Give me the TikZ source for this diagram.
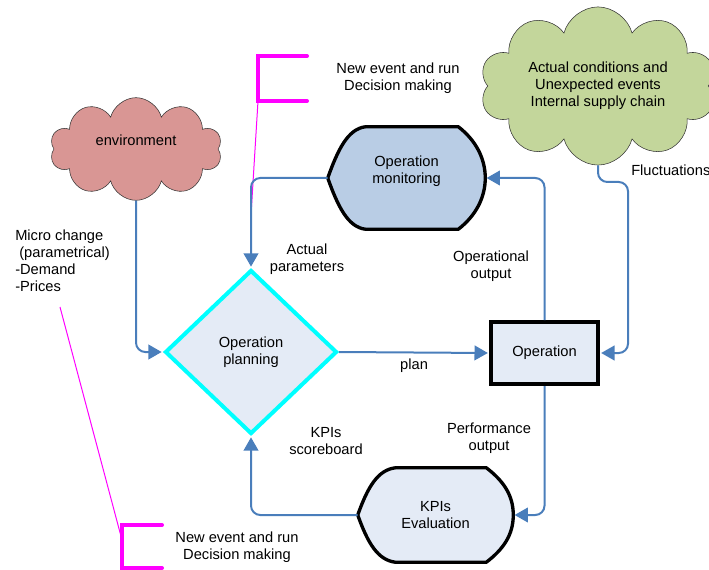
\documentclass[tikz,border=0pt]{standalone}
\usepackage{fontspec}
\setmainfont{Liberation Sans}
\usepackage{tikz}
\usetikzlibrary{arrows.meta,shapes.geometric,shapes.symbols,backgrounds,calc}

\definecolor{flowblue}{RGB}{74,126,187}
\definecolor{planfill}{RGB}{228,235,246}
\definecolor{monfill}{RGB}{185,205,229}
\definecolor{envfill}{RGB}{217,150,148}
\definecolor{actfill}{RGB}{195,214,155}
\definecolor{brkpink}{RGB}{255,0,255}
\definecolor{plancyan}{RGB}{0,255,255}

\tikzset{
  every node/.style={font=\fontsize{11}{12.75}\selectfont},
  flow/.style={draw=flowblue, line width=1.5pt, rounded corners=7pt, shorten >=1pt,
    -{Triangle[length=10pt,width=11pt]}},
  brk/.style={draw=brkpink, line width=3pt, line cap=round},
  leader/.style={draw=brkpink, line width=0.75pt}
}

% outline of a display shape round node #1, filled with #2
\newcommand{\dispoutline}[2]{%
  \draw[line width=2.5pt, line join=round, fill=#2] (#1.west)
    .. controls ($(#1.west)+(10,-28)$) and ($(#1.north west)+(20,2)$) .. ($(#1.north west)+(38,0)$)
    -- ($(#1.north east)+(-27,0)$)
    .. controls ($(#1.north east)+(-10,13)$) and ($(#1.east)+(0,-20)$) .. (#1.east)
    .. controls ($(#1.east)+(0,20)$) and ($(#1.south east)+(-10,-13)$) .. ($(#1.south east)+(-27,0)$)
    -- ($(#1.south west)+(38,0)$)
    .. controls ($(#1.south west)+(20,-2)$) and ($(#1.west)+(10,28)$) .. (#1.west) -- cycle;}

\begin{document}
\begin{tikzpicture}[x=0.75pt,y=0.75pt,yscale=-1,xscale=1]
\useasboundingbox (0,0) rectangle (709,570);

%Shape: Cloud [environment]
\node (envcloud) at (136,149) [cloud, cloud puffs=10, cloud ignores aspect, draw=black!80, fill=envfill,
  minimum width=129pt, minimum height=77pt, text depth=13.5pt] {environment};
%Shape: Cloud [actual conditions]
\node (actcloud) at (598,86) [cloud, cloud puffs=10, aspect=1.84, draw=black!80, fill=actfill,
  minimum width=177pt, minimum height=95pt, align=center]
  {Actual conditions and\\Unexpected events\\Internal supply chain};

%Shape: Diamond
\node (plan) at (251,352) [diamond, draw=plancyan, line width=3pt, fill=planfill,
  minimum width=129pt, minimum height=123pt, inner sep=0pt, align=center] {Operation\\planning};
%Shape: Rectangle
\node (oper) at (544.5,353) [rectangle, draw=black, line width=3pt, fill=planfill,
  minimum width=80pt, minimum height=46.5pt] {Operation};

%Shape: Display [monitoring]
\node (mon) at (406.5,178) [minimum width=117.75pt, minimum height=76.5pt, inner sep=0pt] {};
\node (montext) at ($(mon.center)+(0,-7)$) [align=center] {Operation\\monitoring};
%Shape: Display [evaluation]
\node (kpi) at (435.5,515) [minimum width=116.25pt, minimum height=70.5pt, inner sep=0pt, align=center] {KPIs\\Evaluation};

\begin{scope}[on background layer]
\dispoutline{mon}{monfill}
\dispoutline{kpi}{planfill}
\end{scope}

%Magenta brackets
\draw[brk] (307,56) -- (258,56) -- (258,101) -- (307,101);
\draw[brk] (162,525) -- (122,525) -- (122,568) -- (162,568);
\coordinate (brktop) at (258,101);
\coordinate (leadtop) at (251,215);
\coordinate (microend) at (60,307);
\coordinate (brkbot) at (122,540);
\draw[leader] (brktop) -- (leadtop);
\draw[leader] (microend) -- (brkbot);

%Connectors
\draw[flow] (envcloud.south) |- (plan.west);
\draw[flow] (mon.west) -| (plan.north);
\draw[flow] (oper.north) |- (mon.east);
\draw[flow] (plan.east) -- (oper.west) node[midway, below=1pt] (planlbl) {plan};
\draw[flow] (oper.south) |- (kpi.east);
\draw[flow] (kpi.west) -| (plan.south);
\coordinate (fluctbend) at (628,182);
\draw[flow] (actcloud.south) |- (fluctbend) |- (oper.east);

% Text Node
\node (toptxt) at (398,78) [align=center] {New event and run\\Decision making};
% Text Node
\node (bottxt) at (237,547) [align=center] {New event and run\\Decision making};
% Text Node
\node (microtxt) at (15,230) [anchor=north west, align=left, inner sep=0pt]
  {Micro change\\~(parametrical)\\-Demand\\-Prices};
% Text Node
\node (actlbl) at (307,259) [align=center] {Actual\\parameters};
% Text Node
\node (opoutlbl) at (491,266) [align=center] {Operational\\output};
% Text Node
\node (kpilbl) at (326,441) [align=center] {KPIs\\scoreboard};
% Text Node
\node (perflbl) at (489,438) [align=center] {Performance\\output};
% Text Node
\node (fluctlbl) at (631,170) [anchor=west, inner sep=0pt] {Fluctuations};

\end{tikzpicture}
\end{document}
